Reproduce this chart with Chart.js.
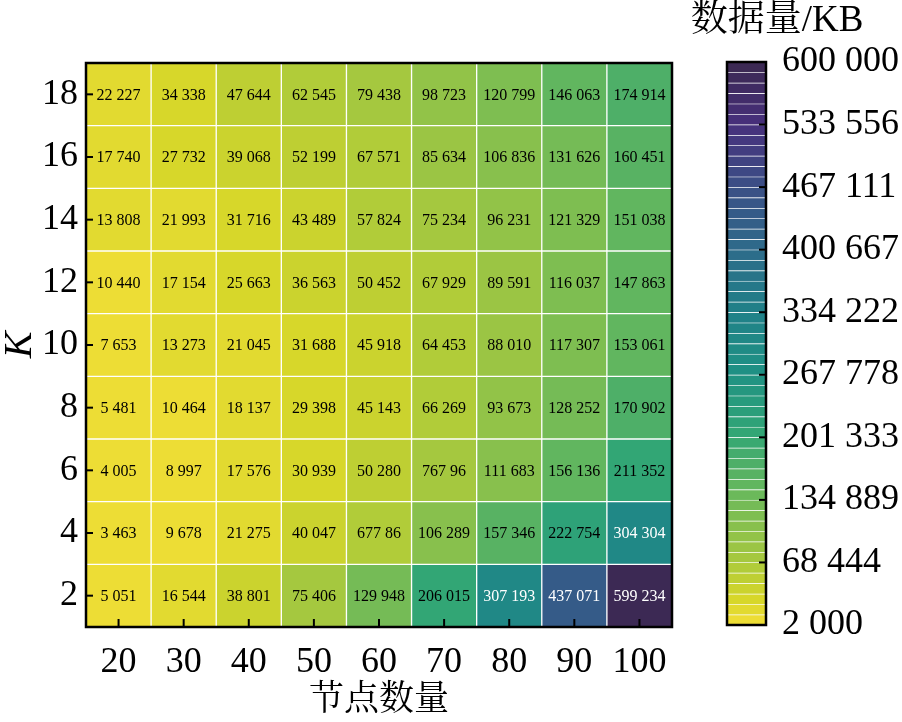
<!DOCTYPE html>
<html>
<head>
<meta charset="utf-8">
<script src="https://cdn.jsdelivr.net/npm/chart.js@4.4.1/dist/chart.umd.min.js"></script>
<style>
  html, body { margin: 0; padding: 0; background: #fff; }
  #wrap { position: relative; width: 902px; height: 722px; }
  #heat { position: absolute; left: 0; top: 0; }
  #barra { position: absolute; left: 680px; top: 0; }
</style>
</head>
<body>
<div id="wrap">
  <canvas id="heat" width="902" height="722"></canvas>
  <canvas id="barra" width="222" height="722"></canvas>
</div>
<script>
// Nós (eixo x) e K (eixo y)
const nos = ["20", "30", "40", "50", "60", "70", "80", "90", "100"];
const valoresK = [2, 4, 6, 8, 10, 12, 14, 16, 18];

// Dados por linha de K (de K=2 até K=18), em KB
const k2  = [5051, 16544, 38801, 75406, 129948, 206015, 307193, 437071, 599234];
const k4  = [3463, 9678, 21275, 40047, 67786, 106289, 157346, 222754, 304304];
const k6  = [4005, 8997, 17576, 30939, 50280, 76796, 111683, 156136, 211352];
const k8  = [5481, 10464, 18137, 29398, 45143, 66269, 93673, 128252, 170902];
const k10 = [7653, 13273, 21045, 31688, 45918, 64453, 88010, 117307, 153061];
const k12 = [10440, 17154, 25663, 36563, 50452, 67929, 89591, 116037, 147863];
const k14 = [13808, 21993, 31716, 43489, 57824, 75234, 96231, 121329, 151038];
const k16 = [17740, 27732, 39068, 52199, 67571, 85634, 106836, 131626, 160451];
const k18 = [22227, 34338, 47644, 62545, 79438, 98723, 120799, 146063, 174914];
const linhas = [k2, k4, k6, k8, k10, k12, k14, k16, k18];

// rótulos como aparecem na figura original
const rotulosEspeciais = { 76796: "767 96", 67786: "677 86" };

// Barra de cores
const escalaMin = 2000;
const escalaMax = 600000;
const ticksBarra = [2000, 68444, 134889, 201333, 267778, 334222, 400667, 467111, 533556, 600000];
const niveis = 54;

const FONTE = "'Liberation Serif', 'Noto Serif CJK SC', 'Noto Sans CJK SC', serif";

const paradas = [
  [0.00, [243, 223, 56]],
  [0.05, [213, 214, 41]],
  [0.12, [165, 200, 63]],
  [0.23, [108, 185, 90]],
  [0.34, [50, 166, 117]],
  [0.45, [31, 145, 132]],
  [0.56, [32, 128, 136]],
  [0.67, [46, 106, 138]],
  [0.78, [59, 79, 134]],
  [0.89, [71, 48, 124]],
  [1.00, [59, 40, 80]]
];

function corPorT(t) {
  t = Math.max(0, Math.min(1, t));
  for (let i = 1; i < paradas.length; i++) {
    if (t <= paradas[i][0]) {
      const [t0, c0] = paradas[i - 1];
      const [t1, c1] = paradas[i];
      const f = (t - t0) / (t1 - t0);
      const c = c0.map((v, j) => Math.round(v + (c1[j] - v) * f));
      return `rgb(${c[0]},${c[1]},${c[2]})`;
    }
  }
  return "rgb(59,40,80)";
}

function corValor(v) {
  const t = (v - escalaMin) / (escalaMax - escalaMin);
  const nivel = Math.min(niveis - 1, Math.floor(t * niveis));
  return corPorT((nivel + 0.5) / niveis);
}

function formatarNumero(v) {
  return String(Math.round(v)).replace(/\B(?=(\d{3})+(?!\d))/g, " ");
}

// ticks para dentro + moldura
const moldura = {
  id: "moldura",
  afterDraw(chart) {
    const { ctx, chartArea: a, scales } = chart;
    ctx.save();
    ctx.strokeStyle = "#000";
    ctx.lineWidth = 2;
    if (scales.x && scales.x.options.display !== false) {
      scales.x.ticks.forEach((t, i) => {
        const px = scales.x.getPixelForTick(i);
        ctx.beginPath(); ctx.moveTo(px, a.bottom); ctx.lineTo(px, a.bottom - 8); ctx.stroke();
      });
      scales.y.ticks.forEach(t => {
        const py = scales.y.getPixelForValue(t.value);
        ctx.beginPath(); ctx.moveTo(a.left, py); ctx.lineTo(a.left + 7, py); ctx.stroke();
      });
    } else {
      scales.y.ticks.forEach(t => {
        if (t.value === escalaMin || t.value === escalaMax) return;
        const py = scales.y.getPixelForValue(t.value);
        ctx.beginPath(); ctx.moveTo(a.right, py); ctx.lineTo(a.right - 7, py); ctx.stroke();
      });
    }
    ctx.lineWidth = 2.5;
    ctx.strokeRect(a.left, a.top, a.right - a.left, a.bottom - a.top);
    ctx.restore();
  }
};

const rotulosCelulas = {
  id: "rotulosCelulas",
  afterDatasetsDraw(chart) {
    const { ctx } = chart;
    ctx.save();
    ctx.font = `16px ${FONTE}`;
    ctx.textAlign = "center";
    ctx.textBaseline = "middle";
    chart.data.datasets.forEach((ds, di) => {
      const meta = chart.getDatasetMeta(di);
      meta.data.forEach((el, i) => {
        const v = ds.valores[i];
        const p = el.getCenterPoint();
        ctx.fillStyle = v > 300000 ? "#fff" : "#000";
        ctx.fillText(rotulosEspeciais[v] || formatarNumero(v), p.x, p.y + 1);
      });
    });
    ctx.restore();
  }
};

const datasetsCalor = linhas.map((linha, r) => ({
  label: "K=" + valoresK[r],
  data: linha.map(() => [valoresK[r] - 1, valoresK[r] + 1]),
  valores: linha,
  backgroundColor: linha.map(corValor),
  borderColor: "rgba(255,255,255,0.12)",
  borderWidth: 1,
  borderSkipped: false,
  barPercentage: 1,
  categoryPercentage: 1,
  grouped: false
}));

new Chart(document.getElementById("heat"), {
  type: "bar",
  data: { labels: nos, datasets: datasetsCalor },
  options: {
    responsive: false,
    animation: false,
    layout: { padding: { top: 63, right: 230, left: 0, bottom: 0 } },
    plugins: { legend: { display: false }, tooltip: { enabled: false } },
    scales: {
      x: {
        grid: { display: false },
        border: { display: false },
        ticks: { color: "#000", font: { family: FONTE, size: 36 }, padding: 6, maxRotation: 0 },
        title: { display: true, text: "节点数量", color: "#000", font: { family: FONTE, size: 35, lineHeight: 1.05 }, padding: { top: 0, bottom: 3 } },
        afterFit(s) { s.height = 95; }
      },
      y: {
        min: 1, max: 19,
        grid: { display: false },
        border: { display: false },
        afterBuildTicks(s) { s.ticks = valoresK.map(v => ({ value: v })); },
        ticks: { color: "#000", font: { family: FONTE, size: 36 }, padding: 0 },
        title: { display: true, text: "K", color: "#000", font: { family: FONTE, size: 40, style: "italic", lineHeight: 1.0 }, padding: { top: 0, bottom: 0 } },
        afterFit(s) { s.width = 86; }
      }
    }
  },
  plugins: [rotulosCelulas, moldura]
});

// Barra de cores como barras flutuantes numa escala linear
const passo = (escalaMax - escalaMin) / niveis;
const faixas = [];
for (let i = 0; i < niveis; i++) faixas.push([escalaMin + i * passo, escalaMin + (i + 1) * passo]);

const tituloBarra = {
  id: "tituloBarra",
  afterDraw(chart) {
    const { ctx, chartArea: a } = chart;
    ctx.save();
    ctx.font = `37px ${FONTE}`;
    ctx.fillStyle = "#000";
    ctx.textAlign = "center";
    ctx.textBaseline = "middle";
    ctx.fillText("数据量/KB", a.left + 50, 21);
    ctx.restore();
  }
};

new Chart(document.getElementById("barra"), {
  type: "bar",
  data: {
    labels: [""],
    datasets: faixas.map(f => ({
      data: [f],
      backgroundColor: corPorT(((f[0] + f[1]) / 2 - escalaMin) / (escalaMax - escalaMin)),
      borderColor: "rgba(255,255,255,0.13)",
      borderWidth: { top: 1, bottom: 0, left: 0, right: 0 },
      borderSkipped: false,
      barPercentage: 1,
      categoryPercentage: 1,
      grouped: false
    }))
  },
  options: {
    responsive: false,
    animation: false,
    layout: { padding: { top: 62, bottom: 97, left: 47, right: 0 } },
    plugins: { legend: { display: false }, tooltip: { enabled: false } },
    scales: {
      x: { display: false },
      y: {
        position: "right",
        min: escalaMin, max: escalaMax,
        grid: { display: false },
        border: { display: false },
        afterBuildTicks(s) { s.ticks = ticksBarra.map(v => ({ value: v })); },
        ticks: { color: "#000", font: { family: FONTE, size: 36 }, padding: 8, callback: v => formatarNumero(v) },
        afterFit(s) { s.width = 136; }
      }
    }
  },
  plugins: [moldura, tituloBarra]
});
</script>
</body>
</html>
